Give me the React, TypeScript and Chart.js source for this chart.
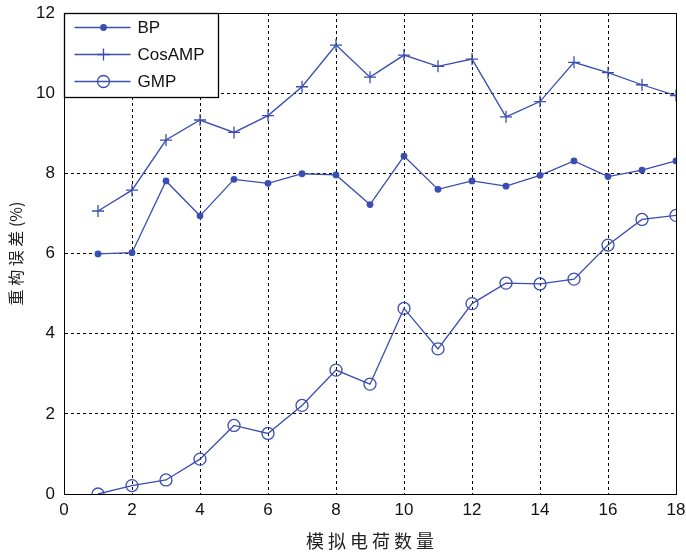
import React, { useEffect, useRef } from "react";
import { Chart, registerables } from "chart.js";

Chart.register(...registerables);

const xValues = [1, 2, 3, 4, 5, 6, 7, 8, 9, 10, 11, 12, 13, 14, 15, 16, 17, 18];
const bpValues = [5.99, 6.02, 7.81, 6.94, 7.85, 7.75, 7.99, 7.96, 7.22, 8.43, 7.6, 7.81, 7.68, 7.95, 8.31, 7.92, 8.08, 8.31];
const cosampValues = [7.06, 7.58, 8.83, 9.33, 9.02, 9.44, 10.16, 11.2, 10.4, 10.95, 10.67, 10.85, 9.41, 9.79, 10.77, 10.51, 10.21, 9.94];
const gmpValues = [0.0, 0.21, 0.35, 0.87, 1.71, 1.51, 2.21, 3.09, 2.74, 4.63, 3.62, 4.75, 5.26, 5.24, 5.36, 6.21, 6.85, 6.95];
const seriesNames = ["BP", "CosAMP", "GMP"];
const xTitle = "模 拟 电 荷 数 量";
const yTitle = "重 构 误 差 (%)";

const BLUE = "#3a4db0";
const TICK_FONT = "'Liberation Sans', Arial, sans-serif";
const CJK_FONT = "'Noto Sans CJK SC', sans-serif";

function drawMarker(ctx: CanvasRenderingContext2D, style: string, x: number, y: number, r: number) {
  ctx.beginPath();
  if (style === "dot") {
    ctx.arc(x, y, r, 0, Math.PI * 2);
    ctx.fillStyle = BLUE;
    ctx.fill();
  } else if (style === "cross") {
    ctx.moveTo(x - r, y);
    ctx.lineTo(x + r, y);
    ctx.moveTo(x, y - r);
    ctx.lineTo(x, y + r);
    ctx.stroke();
  } else {
    ctx.arc(x, y, r, 0, Math.PI * 2);
    ctx.stroke();
  }
}

const boxAndLegend = {
  id: "boxAndLegend",
  afterDraw(chart: any) {
    const { ctx, chartArea } = chart;
    ctx.save();
    ctx.setLineDash([]);
    ctx.strokeStyle = "#000";
    ctx.lineWidth = 1;
    ctx.strokeRect(
      Math.round(chartArea.left) + 0.5,
      Math.round(chartArea.top) + 0.5,
      Math.round(chartArea.right - chartArea.left),
      Math.round(chartArea.bottom - chartArea.top)
    );
    // legend
    const lx = Math.round(chartArea.left) + 0.5;
    const ly = Math.round(chartArea.top) + 0.5;
    const lw = 154;
    const lh = 84;
    ctx.fillStyle = "#fff";
    ctx.fillRect(lx, ly, lw, lh);
    ctx.strokeStyle = "#000";
    ctx.lineWidth = 1.3;
    ctx.strokeRect(lx, ly, lw, lh);
    const styles = ["dot", "cross", "circle"];
    const radii = [3.4, 6, 6];
    chart.data.datasets.forEach((ds: any, i: number) => {
      const y = ly + 14 + i * 27;
      ctx.strokeStyle = BLUE;
      ctx.lineWidth = 1.3;
      ctx.beginPath();
      ctx.moveTo(lx + 10, y);
      ctx.lineTo(lx + 66, y);
      ctx.stroke();
      drawMarker(ctx, styles[i], lx + 39, y, radii[i]);
      ctx.fillStyle = "#111";
      ctx.font = `17px ${TICK_FONT}`;
      ctx.textBaseline = "middle";
      ctx.textAlign = "left";
      ctx.fillText(ds.label, lx + 73, y + 1);
    });
    ctx.restore();
  },
};

export default function App() {
  const canvasRef = useRef<HTMLCanvasElement | null>(null);

  useEffect(() => {
    const canvas = canvasRef.current;
    if (!canvas) return;
    const mk = (vals: number[]) => xValues.map((x, i) => ({ x, y: vals[i] }));
    const chart = new Chart(canvas, {
      type: "line",
      data: {
        datasets: [
          {
            label: seriesNames[0],
            data: mk(bpValues),
            borderColor: BLUE,
            backgroundColor: BLUE,
            borderWidth: 1.3,
            pointStyle: "circle",
            pointRadius: 3.4,
            pointBorderWidth: 0,
            pointBackgroundColor: BLUE,
            tension: 0,
          },
          {
            label: seriesNames[1],
            data: mk(cosampValues),
            borderColor: BLUE,
            backgroundColor: BLUE,
            borderWidth: 1.3,
            pointStyle: "cross",
            pointRadius: 6,
            pointBorderWidth: 1.3,
            tension: 0,
          },
          {
            label: seriesNames[2],
            data: mk(gmpValues),
            borderColor: BLUE,
            backgroundColor: "rgba(0,0,0,0)",
            borderWidth: 1.3,
            pointStyle: "circle",
            pointRadius: 6,
            pointBorderWidth: 1.3,
            pointBackgroundColor: "rgba(0,0,0,0)",
            tension: 0,
          },
        ],
      },
      options: {
        animation: false,
        responsive: false,
        events: [],
        layout: { padding: { left: 0, top: 13, right: 10, bottom: 0 } },
        plugins: {
          legend: { display: false },
          tooltip: { enabled: false },
        },
        scales: {
          x: {
            type: "linear",
            min: 0,
            max: 18,
            afterFit: (s: any) => {
              s.height = 58;
              s.paddingLeft = 0;
              s.paddingRight = 0;
            },
            ticks: {
              stepSize: 2,
              color: "#111",
              font: { family: TICK_FONT, size: 17 },
              padding: 6,
              maxRotation: 0,
            },
            grid: { color: "#000", lineWidth: 1, drawTicks: false },
            border: { display: true, color: "#000", dash: [3, 3] },
            title: {
              display: true,
              text: xTitle,
              color: "#222",
              font: { family: CJK_FONT, size: 18 },
              padding: { top: 0, bottom: 0 },
            },
          },
          y: {
            type: "linear",
            min: 0,
            max: 12,
            afterFit: (s: any) => {
              s.width = 64;
              s.paddingTop = 0;
              s.paddingBottom = 0;
            },
            ticks: {
              stepSize: 2,
              color: "#111",
              font: { family: TICK_FONT, size: 17 },
              padding: 9,
            },
            grid: { color: "#000", lineWidth: 1, drawTicks: false },
            border: { display: true, color: "#000", dash: [3, 3] },
            title: {
              display: true,
              text: yTitle,
              color: "#222",
              font: { family: CJK_FONT, size: 16 },
              padding: { top: 6, bottom: 0 },
            },
          },
        },
      },
      plugins: [boxAndLegend],
    } as any);
    return () => chart.destroy();
  }, []);

  return (
    <div style={{ position: "absolute", left: 0, top: 0, width: 686, height: 552, background: "#fff" }}>
      <canvas ref={canvasRef} width={686} height={552} />
    </div>
  );
}
